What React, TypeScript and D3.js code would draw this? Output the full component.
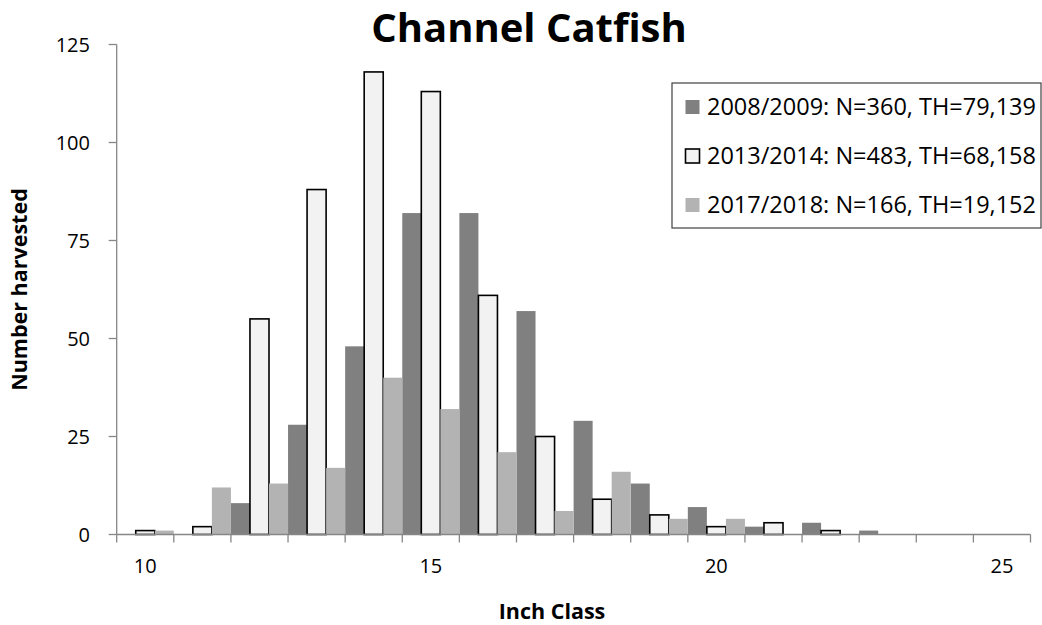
import React from "react";
import * as d3 from "d3";

const categories = [10, 11, 12, 13, 14, 15, 16, 17, 18, 19, 20, 21, 22, 23, 24, 25];
const series2008 = [0, 0, 8, 28, 48, 82, 82, 57, 29, 13, 7, 2, 3, 1, 0, 0];
const series2013 = [1, 2, 55, 88, 118, 113, 61, 25, 9, 5, 2, 3, 1, 0, 0, 0];
const series2017 = [1, 12, 13, 17, 40, 32, 21, 6, 16, 4, 4, 0, 0, 0, 0, 0];
const seriesNames = [
  "2008/2009: N=360, TH=79,139",
  "2013/2014: N=483, TH=68,158",
  "2017/2018: N=166, TH=19,152",
];
const yTicks = [0, 25, 50, 75, 100, 125];
const xTickLabels = [10, 15, 20, 25];

const W = 1042;
const H = 625;
const FONT = "'Open Sans', 'Noto Sans', sans-serif";

const styles = [
  { fill: "#808080", stroke: "none", sw: 0 },
  { fill: "#F2F2F2", stroke: "#000000", sw: 1.6 },
  { fill: "#B3B3B3", stroke: "none", sw: 0 },
];

export default function App() {
  const left = 116.7;
  const right = 1030.5;
  const top = 44.5;
  const bottom = 534.5;
  const x = d3.scaleBand<number>().domain(categories).range([left, right]).padding(0);
  const seriesIdx = [0, 1, 2];
  const xi = d3.scaleBand<number>().domain(seriesIdx).range([0, x.bandwidth()]).padding(0);
  const y = d3.scaleLinear().domain([0, 125]).range([bottom, top]);
  const data = [series2008, series2013, series2017];
  const axisColor = "#868686";

  const bounds = categories.map((c) => x(c) as number).concat([right]);

  return (
    <svg
      width={W}
      height={H}
      style={{ position: "absolute", left: 0, top: 0, background: "#fff" }}
      fontFamily={FONT}
    >
      <rect x={0} y={0} width={W} height={H} fill="#fff" />
      {/* title */}
      <text x={529} y={42} textAnchor="middle" fontSize={40} fontWeight="bold" fill="#000">
        Channel Catfish
      </text>

      {/* bars */}
      {data.map((vals, si) =>
        vals.map((v, ci) => {
          if (v <= 0) return null;
          const bx = (x(categories[ci]) as number) + (xi(si) as number);
          const st = styles[si];
          return (
            <rect
              key={`${si}-${ci}`}
              x={bx}
              y={y(v)}
              width={xi.bandwidth()}
              height={y(0) - y(v)}
              fill={st.fill}
              stroke={st.stroke}
              strokeWidth={st.sw}
            />
          );
        })
      )}

      {/* y axis */}
      <line x1={left} x2={left} y1={top} y2={bottom} stroke={axisColor} strokeWidth={1.3} />
      {yTicks.map((t) => (
        <g key={t}>
          <line x1={left - 8} x2={left} y1={y(t)} y2={y(t)} stroke={axisColor} strokeWidth={1.3} />
          <text x={90} y={y(t)} dy="0.36em" textAnchor="end" fontSize={20} fill="#000">
            {t}
          </text>
        </g>
      ))}

      {/* x axis */}
      <line x1={left} x2={right} y1={bottom} y2={bottom} stroke={axisColor} strokeWidth={1.3} />
      {bounds.map((b, i) => (
        <line key={i} x1={b} x2={b} y1={bottom} y2={bottom + 8} stroke={axisColor} strokeWidth={1.3} />
      ))}
      {xTickLabels.map((t) => (
        <text
          key={t}
          x={(x(t) as number) + x.bandwidth() / 2}
          y={566}
          dy="0.36em"
          textAnchor="middle"
          fontSize={20}
          fill="#000"
        >
          {t}
        </text>
      ))}

      {/* axis titles */}
      <text x={552} y={619} textAnchor="middle" fontSize={21.5} fontWeight="bold" fill="#000">
        Inch Class
      </text>
      <text
        transform={`translate(27, ${(top + bottom) / 2}) rotate(-90)`}
        textAnchor="middle"
        fontSize={21.5}
        fontWeight="bold"
        fill="#000"
      >
        Number harvested
      </text>

      {/* legend */}
      <rect x={672} y={83} width={369} height={145} fill="#fff" stroke="#404040" strokeWidth={1.2} />
      {seriesNames.map((name, i) => {
        const cy = 107 + i * 49;
        const st = styles[i];
        return (
          <g key={name}>
            <rect
              x={685.5}
              y={cy - 7}
              width={14}
              height={14}
              fill={st.fill}
              stroke={st.stroke}
              strokeWidth={st.sw}
            />
            <text x={707} y={cy} dy="0.36em" fontSize={23.5} fill="#000">
              {name}
            </text>
          </g>
        );
      })}
    </svg>
  );
}
